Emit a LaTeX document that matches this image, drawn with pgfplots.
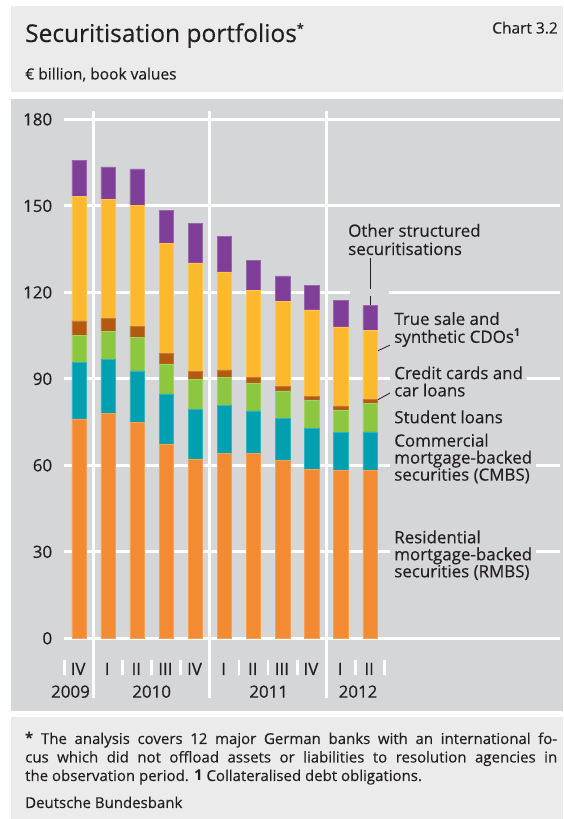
\documentclass[border=0pt]{standalone}
\usepackage{fontspec}
\setmainfont{Open Sans}[UprightFeatures={FakeBold=0.35}]
\usepackage{pgfplots}
\usepackage{pgfplotstable}
\pgfplotsset{compat=1.18}
\definecolor{plotgrey}{RGB}{213,214,216}
\definecolor{boxgrey}{RGB}{235,235,236}
\definecolor{textdark}{RGB}{35,31,32}
\definecolor{cRMBS}{RGB}{242,139,50}
\definecolor{cCMBS}{RGB}{0,160,176}
\definecolor{cStud}{RGB}{141,198,63}
\definecolor{cCred}{RGB}{177,90,16}
\definecolor{cCDO}{RGB}{253,185,45}
\definecolor{cOther}{RGB}{127,63,152}
\newcommand\labfont{\fontsize{16.9pt}{17.2pt}\selectfont}
\tikzset{
  lbl/.style={anchor=base west, inner sep=0pt, text=textdark, font=\labfont},
  lblk/.style={lbl, fill=plotgrey, inner xsep=4pt, inner ysep=0.5pt, xshift=-4pt},
  yr/.style={anchor=base, inner sep=0pt, text=textdark, font=\labfont},
  fn/.style={anchor=base west, inner sep=0pt, text=textdark, font=\fontsize{15pt}{18pt}\selectfont},
  sep/.style={white, line width=3pt},
  qt/.style={white, line width=2.7pt},
}
\pgfplotstableread{
idx RMBS CMBS Stud Cred CDO Other
1 76.1 19.5 9.4 5.1 43.1 12.7
2 78.1 18.7 9.7 4.5 41.3 11.2
3 75.0 17.8 11.5 4.0 42.0 12.5
4 67.4 17.4 10.4 3.6 38.3 11.4
5 62.2 17.1 10.4 3.0 37.5 13.7
6 64.2 16.5 9.9 2.5 34.0 12.4
7 64.2 14.7 9.7 2.0 30.2 10.3
8 61.6 14.7 9.5 1.7 29.3 8.9
9 58.7 14.2 9.8 1.3 29.9 8.4
10 58.4 13.0 7.8 1.4 27.4 9.3
11 58.4 13.2 9.8 1.4 24.1 8.6
}\datatable
\begin{document}
\begin{tikzpicture}
\path[use as bounding box] (0pt,0pt) rectangle (563pt,819pt);
\fill[boxgrey] (11pt,726.7pt) rectangle (563pt,813pt);
\fill[plotgrey] (11pt,108.3pt) rectangle (563pt,720.3pt);
\fill[boxgrey] (11pt,0pt) rectangle (563pt,102.3pt);
\node[anchor=base west, inner sep=0pt, text=textdark, font=\fontsize{24.5pt}{28pt}\selectfont] at (25pt,777pt) {Securitisation portfolios\raisebox{8pt}{\fontsize{13pt}{13pt}\selectfont\bfseries *}};
\node[anchor=base east, inner sep=0pt, text=textdark, font=\fontsize{15.5pt}{18pt}\selectfont] at (558pt,785.5pt) {Chart 3.2};
\node[anchor=base west, inner sep=0pt, text=textdark, font=\fontsize{15.5pt}{18pt}\selectfont] at (25pt,739.5pt) {€ billion, book values};
\node[fn] at (25pt,75pt) {\makebox[532pt][s]{\textbf{*} The analysis covers 12 major German banks with an international fo-}};
\node[fn] at (25pt,56.5pt) {\makebox[532pt][s]{cus which did not offload assets or liabilities to resolution agencies in}};
\node[fn] at (25pt,38pt) {the observation period. \textbf{1} Collateralised debt obligations.};
\node[fn] at (25pt,11pt) {Deutsche Bundesbank};
\begin{axis}[
  at={(64.35pt,180.7pt)}, anchor=south west,
  scale only axis, width=495.65pt, height=518.9pt,
  xmin=0.5, xmax=17.53, ymin=0, ymax=180,
  axis line style={draw=none},
  major tick length=0pt,
  ytick={0,30,...,180},
  ymajorgrids, grid style={white, line width=3pt},
  xtick={1,...,11},
  xticklabels={IV,I,II,III,IV,I,II,III,IV,I,II},
  xticklabel style={anchor=base, inner sep=0pt, yshift=-36.7pt, xshift=-0.8pt, font=\labfont, text=textdark},
  yticklabel style={anchor=east, inner sep=0pt, xshift=-12pt, font=\labfont, text=textdark},
  /pgf/number format/assume math mode=true,
  ybar stacked, bar width=14.3pt,
  clip=false,
]
\draw[sep] (axis cs:1.5,182.9) -- (axis cs:1.5,-20.7);
\draw[sep] (axis cs:5.5,182.9) -- (axis cs:5.5,-20.7);
\draw[sep] (axis cs:9.5,182.9) -- (axis cs:9.5,-20.7);
\draw[qt] (axis cs:0.5,-7.5) -- (axis cs:0.5,-12.7);
\draw[qt] (axis cs:2.5,-7.5) -- (axis cs:2.5,-12.7);
\draw[qt] (axis cs:3.5,-7.5) -- (axis cs:3.5,-12.7);
\draw[qt] (axis cs:4.5,-7.5) -- (axis cs:4.5,-12.7);
\draw[qt] (axis cs:6.5,-7.5) -- (axis cs:6.5,-12.7);
\draw[qt] (axis cs:7.5,-7.5) -- (axis cs:7.5,-12.7);
\draw[qt] (axis cs:8.5,-7.5) -- (axis cs:8.5,-12.7);
\draw[qt] (axis cs:10.5,-7.5) -- (axis cs:10.5,-12.7);
\draw[qt] (axis cs:11.5,-7.5) -- (axis cs:11.5,-12.7);
\fill[plotgrey] (axis cs:10.31,118.8) rectangle (axis cs:11.65,121.2);
\addplot[fill=cRMBS, draw=cRMBS!80!white, line width=0.5pt] table[x=idx,y=RMBS] {\datatable};
\addplot[fill=cCMBS, draw=cCMBS!80!white, line width=0.5pt] table[x=idx,y=CMBS] {\datatable};
\addplot[fill=cStud, draw=cStud!80!white, line width=0.5pt] table[x=idx,y=Stud] {\datatable};
\addplot[fill=cCred, draw=cCred!80!white, line width=0.5pt] table[x=idx,y=Cred] {\datatable};
\addplot[fill=cCDO, draw=cCDO!80!white, line width=0.5pt] table[x=idx,y=CDO] {\datatable};
\addplot[fill=cOther, draw=cOther!80!white, line width=0.5pt] table[x=idx,y=Other] {\datatable};
\draw[sep] (axis cs:0.5,0) -- (axis cs:17.53,0);
\draw[textdark, line width=0.9pt] (axis cs:11,131.9) -- (axis cs:11,115.6);
\draw[textdark, line width=0.8pt] (axis cs:11.254,99.65) -- (axis cs:11.69,101.7);
\draw[textdark, line width=0.8pt] (axis cs:11.254,82.65) -- (axis cs:11.69,85.1);
\node[yr, anchor=base east] at (axis cs:1.381,-20.6) {2009};
\node[yr] at (axis cs:3.5,-20.6) {2010};
\node[yr] at (axis cs:7.52,-20.6) {2011};
\node[yr] at (axis cs:10.59,-20.6) {2012};
\node[lbl] at (axis cs:10.247,139.3) {Other structured};
\node[lbl] at (axis cs:10.247,132.95) {securitisations};
\node[lbl] at (axis cs:11.83,108.7) {True sale and};
\node[lbl] at (axis cs:11.83,102.5) {synthetic CDOs\raisebox{6pt}{\fontsize{11pt}{11pt}\selectfont\bfseries 1}};
\node[lblk] at (axis cs:11.83,89.9) {Credit cards and};
\node[lbl] at (axis cs:11.83,83.9) {car loans};
\node[lbl] at (axis cs:11.83,74.6) {Student loans};
\node[lbl] at (axis cs:11.83,66.5) {Commercial};
\node[lblk] at (axis cs:11.83,60.6) {mortgage-backed};
\node[lbl] at (axis cs:11.83,54.7) {securities (CMBS)};
\node[lbl] at (axis cs:11.83,32.95) {Residential};
\node[lblk] at (axis cs:11.83,27.05) {mortgage-backed};
\node[lbl] at (axis cs:11.83,21.15) {securities (RMBS)};
\end{axis}
\end{tikzpicture}
\end{document}
